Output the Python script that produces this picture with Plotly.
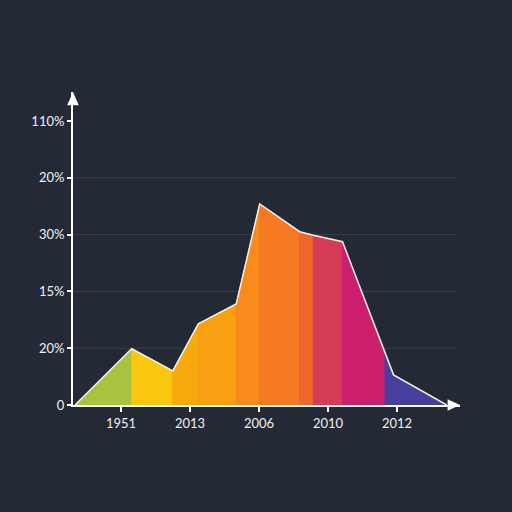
import plotly.graph_objects as go

# Outline points of the area (band edges)
x_vals = [-0.667, 0.155, 0.75, 1.12, 1.67, 2.01, 2.59, 2.787, 3.21, 3.826, 3.95, 4.72]
y_vals = [0.0, 0.99, 0.60, 1.43, 1.78, 3.54, 3.05, 2.99, 2.875, 0.915, 0.53, 0.0]
band_colors = ["#a9c23f", "#f9c70f", "#f8aa0c", "#f99f12", "#f98b1c", "#f67923",
               "#ef662e", "#d63b55", "#cb1e6c", "#473f9d", "#473f9d"]

x_tickvals = [0, 1, 2, 3, 4]
x_ticktext = ["1951", "2013", "2006", "2010", "2012"]
y_tickvals = [0, 1, 2, 3, 4, 5]
y_ticktext = ["0", "20%", "15%", "30%", "20%", "110%"]
grid_levels = [1, 2, 3, 4]

BG = "#232a35"
fig = go.Figure()

for i, c in enumerate(band_colors):
    xa, xb = x_vals[i], x_vals[i + 1]
    ya, yb = y_vals[i], y_vals[i + 1]
    fig.add_trace(go.Scatter(x=[xa, xa, xb, xb, xa], y=[0, ya, yb, 0, 0], mode="lines",
                             fill="toself", fillcolor=c, line=dict(width=1, color=c),
                             hoverinfo="skip", showlegend=False))

fig.add_trace(go.Scatter(x=x_vals, y=y_vals, mode="lines",
                         line=dict(color="#f4f0ea", width=1.5), showlegend=False, hoverinfo="skip"))

shapes = []
for g in grid_levels:
    shapes.append(dict(type="line", xref="paper", yref="y", x0=0, x1=0.99, y0=g, y1=g,
                       line=dict(color="#3a414d", width=1), layer="below"))
# axis arrows (paper coords)
shapes.append(dict(type="path", xref="paper", yref="paper",
                   path="M -0.015 0.958 L 0.015 0.958 L 0 1.0 Z",
                   fillcolor="#ffffff", line=dict(width=0)))
shapes.append(dict(type="path", xref="paper", yref="paper",
                   path="M 0.968 0.018 L 0.968 -0.018 L 1.0 0 Z",
                   fillcolor="#ffffff", line=dict(width=0)))

fig.update_layout(
    width=512, height=512,
    margin=dict(l=73, r=52, t=92, b=107),
    paper_bgcolor=BG, plot_bgcolor=BG,
    font=dict(family="Lato, Open Sans, sans-serif", color="#f0f0f0", size=13),
    shapes=shapes,
    xaxis=dict(range=[-0.696, 4.913], tickvals=x_tickvals, ticktext=x_ticktext,
               showgrid=False, zeroline=False, showline=True, linecolor="#ffffff", linewidth=2,
               ticks="outside", ticklen=5, tickcolor="#ffffff", tickwidth=1.5,
               tickfont=dict(size=13, color="#f0f0f0")),
    yaxis=dict(range=[0, 5.51], tickvals=y_tickvals, ticktext=y_ticktext,
               showgrid=False, zeroline=False, showline=True, linecolor="#ffffff", linewidth=2,
               ticks="outside", ticklen=4, tickcolor="#ffffff", tickwidth=1.5,
               tickfont=dict(size=13, color="#f0f0f0")),
)

fig.write_html("out.html")
